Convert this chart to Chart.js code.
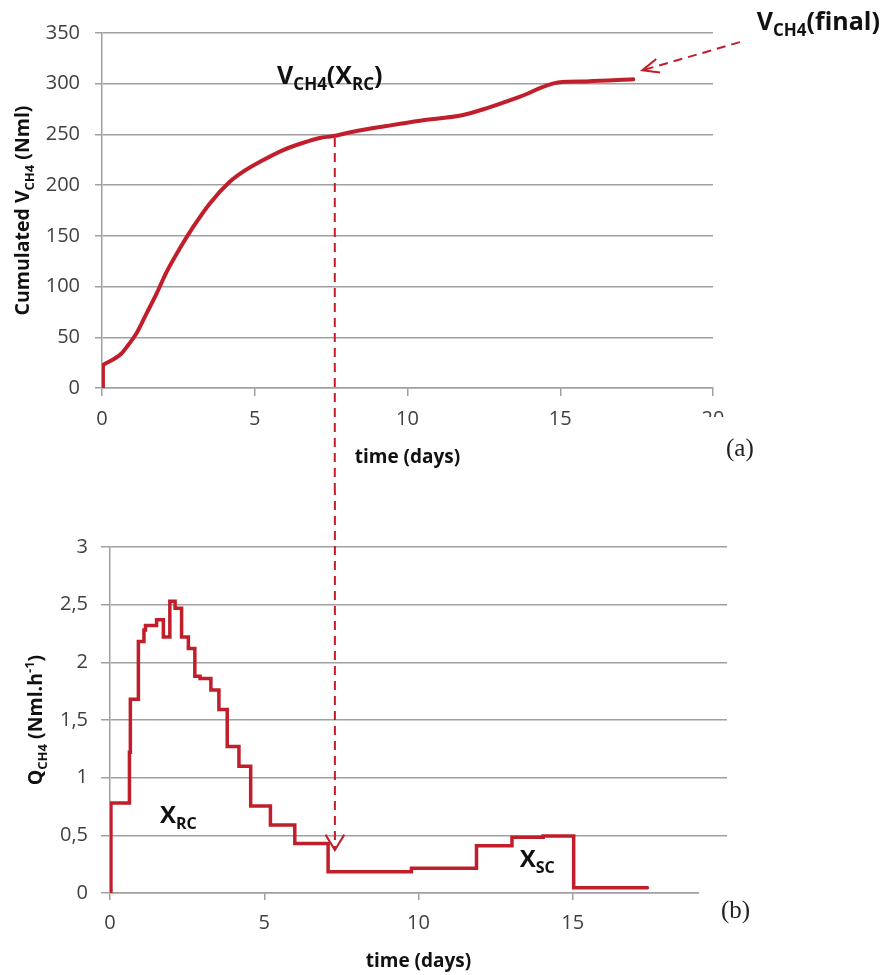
<!DOCTYPE html>
<html>
<head>
<meta charset="utf-8">
<script src="https://cdn.jsdelivr.net/npm/chart.js@4.4.1/dist/chart.umd.min.js"></script>
<style>
  html, body { margin: 0; padding: 0; background: #ffffff; }
  #wrap { position: relative; width: 882px; height: 975px; overflow: hidden; }
  canvas { position: absolute; left: 0; }
  #cTop { top: 0; }
  #cBot { top: 490px; }
</style>
</head>
<body>
<div id="wrap">
  <canvas id="cTop" width="882" height="490"></canvas>
  <canvas id="cBot" width="882" height="485"></canvas>
</div>
<script>
// (a) cumulated methane volume, Nml, against time in days
const volumeDays = [0, 0.03, 0.62, 0.86, 1.13, 1.46, 1.79, 2.12, 2.55, 2.99, 3.53, 4.19, 4.62, 5.17, 5.93, 6.59, 7.13, 7.57, 8.22, 9.32, 10.41, 11.82, 12.58, 13.68, 14.93, 15.86, 17.39];
const volumeNml  = [0, 22.7, 33.5, 42.4, 53.9, 73.6, 93.3, 114.7, 137.7, 159, 182, 203.5, 213.3, 223, 234.6, 241.8, 246.5, 248.4, 252.7, 258.3, 263.5, 269.2, 275.7, 287.2, 301.3, 302.3, 304.3];

// (b) methane production rate, Nml/h; each value holds from its day until the next one
const rateDays = [0, 0.03, 0.63, 0.66, 0.92, 1.10, 1.15, 1.51, 1.73, 1.94, 2.11, 2.32, 2.54, 2.75, 2.92, 3.27, 3.53, 3.80, 4.18, 4.56, 5.20, 5.99, 7.07, 9.77, 11.88, 13.03, 14.04, 15.03, 17.42];
const rateNmlH = [0, 0.78, 1.22, 1.68, 2.18, 2.28, 2.32, 2.37, 2.22, 2.53, 2.47, 2.22, 2.12, 1.88, 1.86, 1.76, 1.59, 1.27, 1.10, 0.755, 0.59, 0.43, 0.185, 0.214, 0.41, 0.483, 0.494, 0.046, 0.046];

// axis ticks
const dayTicks = [0, 5, 10, 15, 20];
const volumeTicks = [0, 50, 100, 150, 200, 250, 300, 350];
const rateTicks = [0, 0.5, 1, 1.5, 2, 2.5, 3];
const rateTickLabels = ['0', '0,5', '1', '1,5', '2', '2,5', '3'];

// marker points used by the annotations
const rcDayTop = 7.62;        // end of the readily degradable phase on the volume curve
const rcVolume = 248.4;
const rcDayBottom = 7.29;     // same instant on the rate panel
const rcArrowRate = 0.373;
const finalDay = 17.39;
const finalVolume = 304.3;

const RED = 'rgb(192,30,42)';
const GRID = '#a0a0a0';
const GRID_WIDTH = 1.5;
const TICK_COLOR = '#404040';
const FAMILY = '"Open Sans", Lato, "Liberation Sans", sans-serif';
const tickFont = { family: FAMILY, size: 20, weight: 'normal' };

// text with subscript / superscript parts
function richText(ctx, parts, x, y, size, align, angle) {
  const fontFor = p => 'bold ' + ((p.sub || p.sup) ? Math.round(size * 0.66) : size) + 'px ' + FAMILY;
  let total = 0;
  const widths = parts.map(p => {
    ctx.font = fontFor(p);
    const w = ctx.measureText(p.t).width;
    total += w;
    return w;
  });
  ctx.save();
  ctx.translate(x, y);
  if (angle) ctx.rotate(angle);
  ctx.textAlign = 'left';
  ctx.textBaseline = 'alphabetic';
  ctx.fillStyle = '#111111';
  let cx = align === 'center' ? -total / 2 : 0;
  parts.forEach((p, i) => {
    ctx.font = fontFor(p);
    const dy = p.sub ? size * 0.24 : (p.sup ? -size * 0.4 : 0);
    ctx.fillText(p.t, cx, dy);
    cx += widths[i];
  });
  ctx.restore();
}

function dashedLine(ctx, x1, y1, x2, y2) {
  ctx.save();
  ctx.strokeStyle = RED;
  ctx.lineWidth = 2;
  ctx.setLineDash([9, 6]);
  ctx.beginPath();
  ctx.moveTo(x1, y1);
  ctx.lineTo(x2, y2);
  ctx.stroke();
  ctx.restore();
}

// open "V" arrow head at (tx,ty), pointing away from (fx,fy)
function openHead(ctx, fx, fy, tx, ty, len, spread) {
  const a = Math.atan2(fy - ty, fx - tx);
  ctx.save();
  ctx.strokeStyle = RED;
  ctx.lineWidth = 2;
  ctx.setLineDash([]);
  ctx.beginPath();
  ctx.moveTo(tx + len * Math.cos(a - spread), ty + len * Math.sin(a - spread));
  ctx.lineTo(tx, ty);
  ctx.lineTo(tx + len * Math.cos(a + spread), ty + len * Math.sin(a + spread));
  ctx.stroke();
  ctx.restore();
}

function panelTag(ctx, text, left, top, right, bottom, tx, ty) {
  ctx.save();
  ctx.fillStyle = '#ffffff';
  ctx.fillRect(left, top, right - left, bottom - top);
  ctx.fillStyle = '#222222';
  ctx.font = '25px "Liberation Serif", "DejaVu Serif", serif';
  ctx.textAlign = 'left';
  ctx.textBaseline = 'alphabetic';
  ctx.fillText(text, tx, ty);
  ctx.restore();
}

const topOverlay = {
  id: 'topOverlay',
  afterDraw(chart) {
    const { ctx, chartArea, scales: { x, y } } = chart;
    // axis titles
    richText(ctx, [{ t: 'time (days)' }], (chartArea.left + chartArea.right) / 2, chartArea.bottom + 75, 19, 'center');
    richText(ctx, [{ t: 'Cumulated V' }, { t: 'CH4', sub: true }, { t: ' (Nml)' }], 29, (chartArea.top + chartArea.bottom) / 2, 19.5, 'center', -Math.PI / 2);
    // V_CH4(X_RC) label and the dashed drop line
    richText(ctx, [{ t: 'V' }, { t: 'CH4', sub: true }, { t: '(X' }, { t: 'RC', sub: true }, { t: ')' }], x.getPixelForValue(5.73), y.getPixelForValue(300), 25, 'left');
    const xr = x.getPixelForValue(rcDayTop);
    dashedLine(ctx, xr, y.getPixelForValue(rcVolume) + 2, xr, chart.height + 2);
    // V_CH4(final) label and arrow
    const fx = x.getPixelForValue(20.88), fy = y.getPixelForValue(341);
    const tx = x.getPixelForValue(finalDay) + 9, ty = y.getPixelForValue(finalVolume) - 9;
    dashedLine(ctx, fx, fy, tx, ty);
    openHead(ctx, fx, fy, tx, ty, 18, 0.4);
    richText(ctx, [{ t: 'V' }, { t: 'CH4', sub: true }, { t: '(final)' }], x.getPixelForValue(21.43), y.getPixelForValue(353), 25, 'left');
    panelTag(ctx, '(a)', 699, 417, 775, 480, 726, 456);
  }
};

const bottomOverlay = {
  id: 'bottomOverlay',
  afterDraw(chart) {
    const { ctx, chartArea, scales: { x, y } } = chart;
    richText(ctx, [{ t: 'time (days)' }], (chartArea.left + chartArea.right) / 2, chartArea.bottom + 74, 19, 'center');
    richText(ctx, [{ t: 'Q' }, { t: 'CH4', sub: true }, { t: ' (Nml.h' }, { t: '-1', sup: true }, { t: ')' }], 42, (chartArea.top + chartArea.bottom) / 2, 19.5, 'center', -Math.PI / 2);
    richText(ctx, [{ t: 'X' }, { t: 'RC', sub: true }], x.getPixelForValue(1.62), y.getPixelForValue(0.607), 24, 'left');
    richText(ctx, [{ t: 'X' }, { t: 'SC', sub: true }], x.getPixelForValue(13.28), y.getPixelForValue(0.225), 24, 'left');
    const xr = x.getPixelForValue(rcDayBottom);
    const tipY = y.getPixelForValue(rcArrowRate);
    dashedLine(ctx, xr, -4, xr, tipY - 2);
    openHead(ctx, xr, 0, xr, tipY, 18, 0.55);
    panelTag(ctx, '(b)', 699, 397, 775, 456, 721, 428);
  }
};

function setTicks(list) {
  return scale => { scale.ticks = list.map(v => ({ value: v })); };
}

const volumePoints = volumeDays.map((d, i) => ({ x: d, y: volumeNml[i] }));
const lineStyle = {
  borderColor: RED,
  borderWidth: 4,
  pointRadius: 0,
  borderCapStyle: 'round',
  borderJoinStyle: 'round',
  fill: false
};

// (a) cumulated volume: the instant rise at t=0 is straight, the rest is smoothed
new Chart(document.getElementById('cTop'), {
  type: 'line',
  data: {
    datasets: [
      Object.assign({ data: volumePoints.slice(0, 2), tension: 0 }, lineStyle),
      Object.assign({ data: volumePoints.slice(1), cubicInterpolationMode: 'monotone' }, lineStyle)
    ]
  },
  options: {
    responsive: false,
    animation: false,
    events: [],
    layout: { padding: { left: 0, top: 33, right: 169, bottom: 0 } },
    plugins: { legend: { display: false }, tooltip: { enabled: false } },
    scales: {
      x: {
        type: 'linear', min: 0, max: 20,
        afterBuildTicks: setTicks(dayTicks),
        ticks: { font: tickFont, color: TICK_COLOR, padding: 11, maxRotation: 0, autoSkip: false },
        grid: { drawOnChartArea: false, drawTicks: true, tickLength: 8, color: GRID, lineWidth: GRID_WIDTH },
        border: { color: GRID, width: GRID_WIDTH },
        afterFit(s) { s.height = 102; }
      },
      y: {
        type: 'linear', min: 0, max: 350,
        afterBuildTicks: setTicks(volumeTicks),
        ticks: { font: tickFont, color: TICK_COLOR, padding: 15, autoSkip: false },
        grid: { color: GRID, lineWidth: GRID_WIDTH, tickLength: 7 },
        border: { color: GRID, width: GRID_WIDTH },
        afterFit(s) { s.width = 102; }
      }
    }
  },
  plugins: [topOverlay]
});

// (b) production rate
new Chart(document.getElementById('cBot'), {
  type: 'line',
  data: {
    datasets: [{
      data: rateDays.map((d, i) => ({ x: d, y: rateNmlH[i] })),
      borderColor: RED,
      borderWidth: 3.5,
      pointRadius: 0,
      stepped: 'before',
      borderCapStyle: 'round',
      borderJoinStyle: 'miter',
      fill: false
    }]
  },
  options: {
    responsive: false,
    animation: false,
    events: [],
    layout: { padding: { left: 0, top: 57, right: 155, bottom: 0 } },
    plugins: { legend: { display: false }, tooltip: { enabled: false } },
    scales: {
      x: {
        type: 'linear', min: 0, max: 20,
        afterBuildTicks: setTicks(dayTicks),
        ticks: { font: tickFont, color: TICK_COLOR, padding: 11, maxRotation: 0, autoSkip: false },
        grid: { drawOnChartArea: false, drawTicks: true, tickLength: 7, color: GRID, lineWidth: GRID_WIDTH },
        border: { color: GRID, width: GRID_WIDTH },
        afterFit(s) { s.height = 82; }
      },
      y: {
        type: 'linear', min: 0, max: 3,
        afterBuildTicks: setTicks(rateTicks),
        ticks: {
          font: tickFont, color: TICK_COLOR, padding: 13, autoSkip: false,
          callback: v => rateTickLabels[rateTicks.indexOf(v)]
        },
        grid: { color: GRID, lineWidth: GRID_WIDTH, tickLength: 9 },
        border: { color: GRID, width: GRID_WIDTH },
        afterFit(s) { s.width = 110; }
      }
    }
  },
  plugins: [bottomOverlay]
});
</script>
</body>
</html>
